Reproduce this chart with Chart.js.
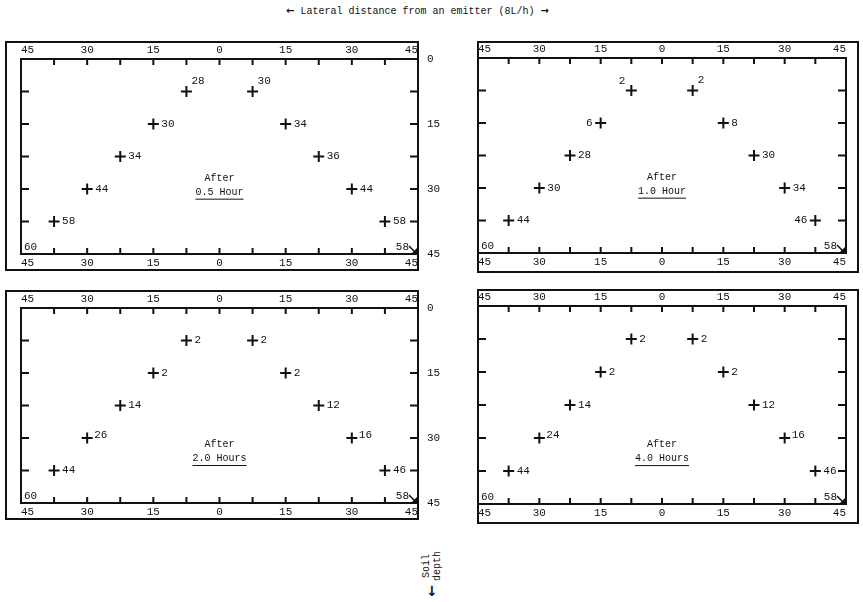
<!DOCTYPE html>
<html><head><meta charset="utf-8">
<script src="https://cdn.jsdelivr.net/npm/chart.js@4.4.1/dist/chart.umd.min.js"></script>
<style>
body{margin:0;background:#fff;width:863px;height:602px;position:relative;overflow:hidden;}
canvas{position:absolute;}
.t{position:absolute;white-space:nowrap;color:#111;font-family:"Liberation Mono",monospace;}
</style></head><body>
<div class="t" style="left:286px;top:5px;font-size:10px;line-height:12px;"><span style="font-family:'DejaVu Sans';font-weight:bold;">←</span> Lateral distance from an emitter (8L/h) <span style="font-family:'DejaVu Sans';font-weight:bold;">→</span></div>
<div class="t" style="left:402px;top:555px;width:60px;text-align:center;font-size:10px;line-height:11px;transform:rotate(-90deg);">Soil<br>depth</div>
<div class="t" style="left:426px;top:583px;font-family:'DejaVu Sans';font-weight:bold;font-size:14px;">↓</div>
<canvas id="c0" width="450" height="250" style="left:0;top:30px"></canvas>
<canvas id="c1" width="423" height="250" style="left:440px;top:30px"></canvas>
<canvas id="c2" width="450" height="250" style="left:0;top:280px"></canvas>
<canvas id="c3" width="423" height="250" style="left:440px;top:280px"></canvas>
<script>
// ---- data ----
const xPositions = [-7.5, 7.5, -15, 15, -22.5, 22.5, -30, 30, -37.5, 37.5];
const depths     = [7.5, 7.5, 15, 15, 22.5, 22.5, 30, 30, 37.5, 37.5];
const panelTimes = ['0.5 Hour', '1.0 Hour', '2.0 Hours', '4.0 Hours'];
const values05h = [28, 30, 30, 34, 34, 36, 44, 44, 58, 58];
const values10h = [2, 2, 6, 8, 28, 30, 30, 34, 44, 46];
const values20h = [2, 2, 2, 2, 14, 12, 26, 16, 44, 46];
const values40h = [2, 2, 2, 2, 14, 12, 24, 16, 44, 46];
const cornerX = [-45, 45];
const cornerDepth = [45, 45];
const corner05h = [60, 58];
const corner10h = [60, 58];
const corner20h = [60, 58];
const corner40h = [60, 58];
const xTickValues = [-45, -30, -15, 0, 15, 30, 45];
const xTickLabels = ['45', '30', '15', '0', '15', '30', '45'];
const yTickValues = [0, 15, 30, 45];
const yTickLabels = ['0', '15', '30', '45'];
// label placement (style)
const sides05h = ['ur','ur','r','r','r','r','r','r','r','r'];
const sides10h = ['ul','ur','l','r','r','r','r','r','r','l'];
const sides20h = ['r','r','r','r','r','r','rs','rs','r','r'];
const sides40h = ['r','r','r','r','r','r','rs','rs','r','r'];

const FONT = "'Liberation Mono', monospace";
const INK = '#111';

function xCb(v){ const i = xTickValues.indexOf(v); return i >= 0 ? xTickLabels[i] : ''; }
function yCb(v){ const i = yTickValues.indexOf(v); return i >= 0 ? yTickLabels[i] : ''; }

function decoPlugin(cfg){
  return {
    id: 'deco',
    afterDraw(chart){
      const ctx = chart.ctx, a = chart.chartArea, xs = chart.scales.x, ys = chart.scales.y;
      ctx.save();
      ctx.strokeStyle = INK; ctx.fillStyle = INK; ctx.lineWidth = 2;
      ctx.strokeRect(a.left, a.top, a.right - a.left, a.bottom - a.top);
      if (cfg.left) {
        ctx.strokeRect(a.left - 15, a.top - 17, a.right - a.left + 15, a.bottom - a.top + 33);
      } else {
        ctx.strokeRect(a.left, a.top - 16, a.right - a.left + 12, a.bottom - a.top + 35);
      }
      const line = (x1,y1,x2,y2) => { ctx.beginPath(); ctx.moveTo(x1,y1); ctx.lineTo(x2,y2); ctx.stroke(); };
      xs.ticks.forEach(t => {
        if (t.value <= -45 || t.value >= 45) return;
        const px = xs.getPixelForValue(t.value);
        line(px, a.top, px, a.top + 6);
        line(px, a.bottom, px, a.bottom - 6);
      });
      ys.ticks.forEach(t => {
        if (t.value <= 0 || t.value >= 45) return;
        const py = ys.getPixelForValue(t.value);
        line(a.left, py, a.left + 8, py);
        line(a.right, py, a.right - 8, py);
      });
      // value labels
      ctx.font = '11px ' + FONT;
      ctx.textBaseline = 'middle';
      const meta = chart.getDatasetMeta(0);
      meta.data.forEach((p, i) => {
        const s = cfg.sides[i], txt = String(cfg.values[i]);
        if (s === 'r') { ctx.textAlign = 'left'; ctx.fillText(txt, p.x + 8, p.y); }
        else if (s === 'rs') { ctx.textAlign = 'left'; ctx.fillText(txt, p.x + 7, p.y - 3); }
        else if (s === 'ur') { ctx.textAlign = 'left'; ctx.fillText(txt, p.x + 5, p.y - 10); }
        else if (s === 'l') { ctx.textAlign = 'right'; ctx.fillText(txt, p.x - 8, p.y); }
        else if (s === 'ul') { ctx.textAlign = 'right'; ctx.fillText(txt, p.x - 6, p.y - 9); }
      });
      // corner labels
      ctx.textBaseline = 'bottom';
      const c0x = xs.getPixelForValue(cornerX[0]), c0y = ys.getPixelForValue(cornerDepth[0]);
      ctx.textAlign = 'left'; ctx.fillText(String(cfg.corners[0]), c0x + 3, c0y - 1);
      const c1x = xs.getPixelForValue(cornerX[1]), c1y = ys.getPixelForValue(cornerDepth[1]);
      ctx.textAlign = 'right'; ctx.fillText(String(cfg.corners[1]), c1x - 9, c1y - 1);
      ctx.lineWidth = 1.5;
      line(c1x - 9, c1y - 8, c1x - 3, c1y - 2);
      ctx.beginPath(); ctx.moveTo(c1x, c1y); ctx.lineTo(c1x - 6, c1y - 1); ctx.lineTo(c1x - 1, c1y - 6); ctx.closePath(); ctx.fill();
      // centre caption
      const cx = xs.getPixelForValue(0), cy = ys.getPixelForValue(cfg.captionDepth);
      ctx.textAlign = 'center'; ctx.textBaseline = 'middle';
      ctx.font = '10px ' + FONT;
      ctx.fillText('After', cx, cy);
      ctx.fillText(cfg.time, cx, cy + 14);
      const w = ctx.measureText(cfg.time).width;
      ctx.lineWidth = 1;
      line(cx - w/2, cy + 21, cx + w/2, cy + 21);
      ctx.restore();
    }
  };
}

function makeChart(id, values, sides, corners, time, left, pad, captionDepth){
  const tickFont = { family: FONT, size: 11 };
  const xAxis = (pos) => ({
    type: 'linear', position: pos, min: -45, max: 45,
    ticks: { stepSize: 7.5, autoSkip: false, maxRotation: 0, padding: 2, align: 'inner', color: INK, font: tickFont, callback: xCb },
    grid: { display: false, drawTicks: false }, border: { display: false },
    afterFit: s => { s.height = 17; }
  });
  new Chart(document.getElementById(id), {
    type: 'scatter',
    data: { datasets: [{
      data: xPositions.map((x, i) => ({ x: x, y: depths[i] })),
      pointStyle: 'cross', pointRadius: 5.5, pointHoverRadius: 5.5,
      borderWidth: 2, borderColor: INK, backgroundColor: INK
    }] },
    options: {
      responsive: false, animation: false, devicePixelRatio: 1, events: [],
      layout: { padding: pad },
      plugins: { legend: { display: false }, tooltip: { enabled: false } },
      scales: {
        x: xAxis('bottom'),
        x2: xAxis('top'),
        y: {
          type: 'linear', position: left ? 'right' : 'left', display: left, reverse: true, min: 0, max: 45,
          ticks: { stepSize: 7.5, autoSkip: false, padding: 9, color: INK, font: tickFont, callback: yCb },
          grid: { display: false, drawTicks: false }, border: { display: false },
          afterFit: s => { s.width = 26; }
        }
      }
    },
    plugins: [decoPlugin({ values, sides, corners, time, left, captionDepth })]
  });
}

makeChart('c0', values05h, sides05h, corner05h, panelTimes[0], true,  { left: 21, right: 6,  top: 12, bottom: 9 }, 27.5);
makeChart('c1', values10h, sides10h, corner10h, panelTimes[1], false, { left: 12, right: 17, top: 11, bottom: 10 }, 27.5);
makeChart('c2', values20h, sides20h, corner20h, panelTimes[2], true,  { left: 21, right: 6,  top: 11, bottom: 10 }, 31.5);
makeChart('c3', values40h, sides40h, corner40h, panelTimes[3], false, { left: 12, right: 17, top: 9,  bottom: 9 }, 31.5);
</script>
</body></html>
